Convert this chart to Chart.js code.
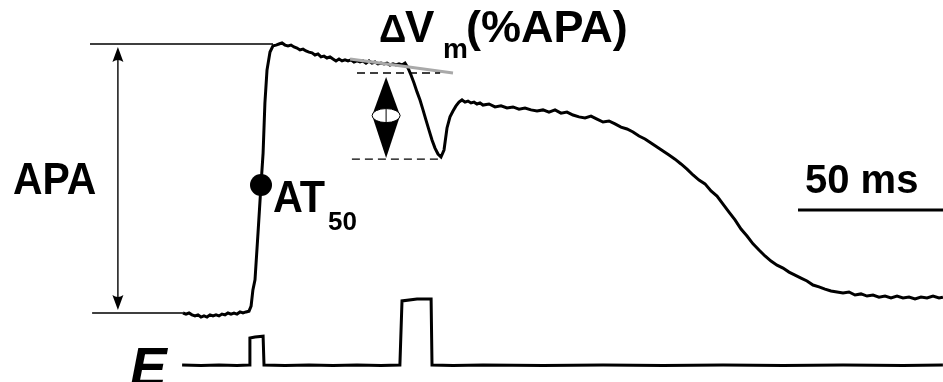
<!DOCTYPE html>
<html>
<head>
<meta charset="utf-8">
<script src="https://cdn.jsdelivr.net/npm/chart.js@4.4.1/dist/chart.umd.min.js"></script>
<style>
  html, body { margin: 0; padding: 0; background: #fff; }
  #wrap { width: 943px; height: 382px; }
</style>
</head>
<body>
<div id="wrap"><canvas id="ap" width="943" height="382"></canvas></div>
<script>
// time in ms, membrane potential in % of action potential amplitude (APA)
const time = [0, 1, 2, 3, 4, 5, 6, 7, 8, 9, 10, 11, 12, 13, 14, 15, 16, 17, 18, 19, 20, 21, 22, 22.7, 23.3, 24, 25, 26, 26.7, 27.3, 28, 29, 30, 31, 32, 33, 34, 35, 36,
  37, 38, 39, 40, 41, 42, 43, 44, 45, 46, 47, 48, 49, 50, 51, 52, 53, 54, 55, 56, 57, 58, 59, 60, 61, 62, 63, 64, 65, 66, 67, 68, 69, 70, 71, 72, 73, 74,
  75, 76, 77, 78, 79, 80, 81, 82, 83, 84, 85, 86, 87, 88, 89, 90, 91, 92, 93, 94, 95, 96, 97, 98, 99, 100,
  102, 104, 106, 108, 110, 112, 114, 116, 118, 120, 122, 124, 126, 128, 130, 132, 134, 136, 138, 140, 142, 144, 146, 148, 150,
  152, 154, 156, 158, 160, 162, 164, 166, 168, 170, 172, 174, 176, 178, 180, 182, 184, 186, 188, 190, 192, 194, 196, 198, 200,
  202, 204, 206, 208, 210, 212, 214, 216, 218, 220, 222, 224, 226, 228, 230, 232, 234, 236, 238, 240, 242, 244, 246, 248, 250, 252, 253.3];
const vm = [0, -0.4, 0, -0.7, -1.1, -0.7, -1.5, -1.1, -1.5, -0.7, -1.1, -0.7, -1.1, -0.4, -0.7, 0, -0.4, 0, -0.4, 0.4, 0, 0.4, 0.7, 2.6, 8.6, 12.3, 29.7, 47.6, 59.5, 78, 90.3, 97, 99.3, 99.6, 100, 100.4, 99.6, 99.3, 99.6,
  98.9, 98.5, 97.8, 98.1, 97.4, 97, 96.7, 95.9, 96.3, 95.2, 95.5, 94.8, 95.2, 94.4, 93.7, 94.4, 93.7, 94.1, 93.7, 94.1, 93.3, 93.7, 93.3, 93.7, 92.9, 93.7, 92.9, 93.3, 92.6, 92.9, 92.6, 92.9, 92.2, 92.6, 92.2, 92.6, 92.2, 92.9,
  91.1, 88.5, 85.5, 82.2, 79.2, 75.5, 71.7, 68, 64.3, 61.3, 59.1, 58, 60.6, 68.8, 72.9, 75.1, 77, 78.4, 79.2, 78.4, 78.8, 78.1, 78.4, 77.7, 78.1, 77.3,
  77.7, 76.6, 77, 76.2, 76.6, 75.8, 76.2, 75.5, 75.1, 75.5, 74.7, 75.5, 74.3, 74.7, 73.6, 72.9, 72.5, 73.2, 72.1, 71, 71.4, 70.3, 69.1, 68.4, 67.3,
  65.8, 64.7, 63.2, 61.7, 60.2, 58.7, 57.2, 55.4, 53.5, 51.3, 49.4, 48, 45.4, 43.5, 40.5, 37.5, 34.6, 31.2, 28.6, 25.7, 23.4, 21.2, 19.3, 17.8, 16.7,
  15.2, 14.1, 13, 11.9, 10.4, 9.7, 8.9, 8.2, 7.8, 7.4, 7.8, 6.7, 7.1, 6.3, 6.7, 5.9, 6.3, 5.6, 6.3, 5.6, 5.9, 5.2, 5.9, 5.6, 6.3, 5.6, 5.9];

// stimulus (E) trace, drawn on the same scale below the AP
const stimTime = [-0.3, 6, 12, 18, 22, 22.3, 24, 26.7, 27, 34, 42, 50, 58, 66, 72.3, 73, 78, 82.7, 83, 90, 100, 120, 140, 160, 180, 200, 220, 240, 253.3];
const stim = [-19.3, -19.5, -19.3, -19.5, -19.3, -9.3, -8.9, -8.6, -19.3, -19.5, -19.3, -19.5, -19.3, -19.5, -19.3, 4.5, 5.2, 5.2, -19.3, -19.5, -19.3, -19.5, -19.3, -19.5, -19.3, -19.5, -19.3, -19.5, -19.3];

// annotation values
const at50 = [{ x: 26, y: 47.6 }];
const apaLevels = [100, 0];
const apaArrowTime = -21.7;
const dipLevels = [89.2, 57.2];
const dipArrow = { t: 67.7, top: 87.7, bottom: 57.6 };
const slopeTime = [55.7, 90];
const slopeVm = [94.4, 89.2];
const scaleBarTime = [205, 255];
const scaleBarVm = 38.3;

const FONT = '"Liberation Sans", Arial, sans-serif';

function arrowHead(ctx, x, y, dir) {
  // dir = 1 pointing up, -1 pointing down
  ctx.beginPath();
  ctx.moveTo(x, y);
  ctx.lineTo(x + 5.5, y + dir * 15);
  ctx.quadraticCurveTo(x, y + dir * 11, x - 5.5, y + dir * 15);
  ctx.closePath();
  ctx.fill();
}

function label(ctx, text, x, y, size, sx, style) {
  ctx.save();
  ctx.font = (style || 'bold') + ' ' + size + 'px ' + FONT;
  ctx.translate(x, y);
  ctx.scale(sx, 1);
  ctx.fillText(text, 0, 0);
  ctx.restore();
}

const annotations = {
  id: 'annotations',
  afterDatasetsDraw(chart) {
    const ctx = chart.ctx;
    const X = v => chart.scales.x.getPixelForValue(v);
    const Y = v => chart.scales.y.getPixelForValue(v);
    ctx.save();
    ctx.strokeStyle = '#000';
    ctx.fillStyle = '#000';

    // APA reference lines
    ctx.lineWidth = 1.4;
    ctx.beginPath();
    ctx.moveTo(X(-31), Y(apaLevels[0])); ctx.lineTo(X(30), Y(apaLevels[0]));
    ctx.moveTo(X(-30.3), Y(apaLevels[1])); ctx.lineTo(X(0), Y(apaLevels[1]));
    ctx.stroke();
    // APA double arrow
    const ax = X(apaArrowTime);
    ctx.beginPath();
    ctx.moveTo(ax, Y(apaLevels[0]) + 6); ctx.lineTo(ax, Y(apaLevels[1]) - 6);
    ctx.stroke();
    arrowHead(ctx, ax, Y(apaLevels[0]) + 3, 1);
    arrowHead(ctx, ax, Y(apaLevels[1]) - 3, -1);

    // slope line
    ctx.strokeStyle = '#a9a9a9';
    ctx.lineWidth = 3;
    ctx.beginPath();
    ctx.moveTo(X(slopeTime[0]), Y(slopeVm[0]));
    ctx.lineTo(X(slopeTime[1]), Y(slopeVm[1]));
    ctx.stroke();

    // dashed dip levels
    ctx.strokeStyle = '#000';
    ctx.lineWidth = 1.4;
    ctx.setLineDash([8, 5]);
    ctx.beginPath();
    ctx.moveTo(X(58), Y(dipLevels[0])); ctx.lineTo(X(85.7), Y(dipLevels[0]));
    ctx.moveTo(X(56.3), Y(dipLevels[1])); ctx.lineTo(X(85.7), Y(dipLevels[1]));
    ctx.stroke();
    ctx.setLineDash([]);

    // lens double arrow
    const dx = X(dipArrow.t), dt = Y(dipArrow.top), db = Y(dipArrow.bottom);
    const dm = (dt + db) / 2 - 2;
    ctx.beginPath();
    ctx.moveTo(dx, dt);
    ctx.lineTo(dx + 14, dm);
    ctx.lineTo(dx, db);
    ctx.lineTo(dx - 14, dm);
    ctx.closePath();
    ctx.fill();
    ctx.fillStyle = '#fff';
    ctx.lineWidth = 1;
    ctx.beginPath();
    ctx.ellipse(dx, dm, 14, 7, 0, 0, Math.PI * 2);
    ctx.fill();
    ctx.stroke();
    ctx.beginPath();
    ctx.moveTo(dx, dm - 7); ctx.lineTo(dx, dm + 7);
    ctx.stroke();
    ctx.fillStyle = '#000';

    // scale bar
    ctx.lineWidth = 3;
    ctx.beginPath();
    ctx.moveTo(X(scaleBarTime[0]), Y(scaleBarVm));
    ctx.lineTo(X(scaleBarTime[1]), Y(scaleBarVm));
    ctx.stroke();

    // text
    ctx.textBaseline = 'alphabetic';
    label(ctx, 'APA', 13, 194, 44, 0.93);
    label(ctx, 'AT', 273, 212, 44, 0.94);
    label(ctx, '50', 328, 230, 26, 1);
    label(ctx, '\u0394', 379, 42, 38, 1);
    label(ctx, 'V', 405, 42, 44, 1);
    label(ctx, 'm', 443, 58, 28, 1);
    label(ctx, '(%APA)', 466, 42, 45, 1);
    label(ctx, '50 ms', 805, 193, 40, 1);
    label(ctx, 'E', 130, 386, 55, 1, 'italic bold');
    ctx.restore();
  }
};

new Chart(document.getElementById('ap'), {
  type: 'line',
  data: {
    datasets: [
      {
        label: 'Vm',
        data: time.map((t, i) => ({ x: t, y: vm[i] })),
        borderColor: '#000',
        borderWidth: 3,
        pointRadius: 0,
        tension: 0
      },
      {
        label: 'E',
        data: stimTime.map((t, i) => ({ x: t, y: stim[i] })),
        borderColor: '#000',
        borderWidth: 3,
        pointRadius: 0,
        tension: 0
      },
      {
        label: 'AT50',
        data: at50,
        showLine: false,
        pointRadius: 11,
        pointBackgroundColor: '#000',
        pointBorderColor: '#000',
        pointBorderWidth: 0
      }
    ]
  },
  options: {
    responsive: false,
    animation: false,
    events: [],
    layout: { padding: 0, autoPadding: false },
    plugins: {
      legend: { display: false },
      tooltip: { enabled: false }
    },
    scales: {
      x: { type: 'linear', display: false, min: -61, max: 253.33 },
      y: { type: 'linear', display: false, min: -25.65, max: 116.36 }
    }
  },
  plugins: [annotations]
});
</script>
</body>
</html>
